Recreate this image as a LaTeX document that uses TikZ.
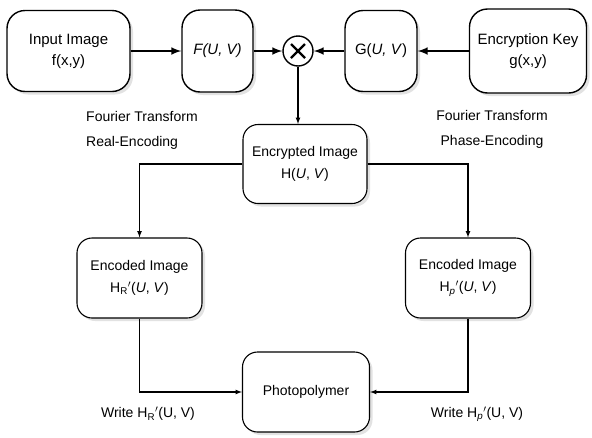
\documentclass[tikz,border=0pt]{standalone}
\usepackage{fontspec}
\setmainfont{Liberation Sans}
\usetikzlibrary{shadows}

\tikzset{
  boxshadow/.style={drop shadow={shadow xshift=3pt, shadow yshift=-3pt, fill=gray!45, draw=none}},
  topbox/.style={draw, line width=1.4pt, rounded corners=18pt, fill=white, align=center,
    font=\fontsize{15}{21}\selectfont, boxshadow},
  midbox/.style={draw, line width=1.1pt, rounded corners=15pt, fill=white, align=center,
    minimum width=124pt, minimum height=79pt, font=\fontsize{14}{22}\selectfont, boxshadow},
  note/.style={font=\fontsize{14}{25}\selectfont, inner sep=0pt},
  thickarrow/.style={line width=2.4pt, -latex},
  thinarrow/.style={line width=1.2pt, -latex}
}

\begin{document}
\begin{tikzpicture}[x=1pt, y=-1pt]
  \useasboundingbox (0,0) rectangle (592,437);

  % top row
  \node[topbox, minimum width=123pt, minimum height=81pt] (input) at (68.5,51) {Input Image\\f(x,y)};
  \node[topbox, minimum width=71pt, minimum height=82pt] (fuv) at (217.5,51) {\textit{F(U, V)}};
  \node[draw, circle, line width=1.4pt, minimum size=30pt, inner sep=0pt, fill=white,
    path picture={\draw[line width=2.2pt]
      (path picture bounding box.center) +(-7pt,-7pt) -- +(7pt,7pt)
      (path picture bounding box.center) +(-7pt,7pt) -- +(7pt,-7pt);}] (mult) at (298,51) {};
  \node[topbox, minimum width=72pt, minimum height=81pt] (guv) at (381,51) {G(\textit{U, V})};
  \node[topbox, minimum width=117pt, minimum height=84pt] (key) at (528,51) {Encryption Key\\g(x,y)};

  % lower boxes
  \node[midbox] (enc) at (305,164) {Encrypted Image\\H(\textit{U}, \textit{V})};
  \node[midbox, minimum width=125pt, minimum height=80pt] (encR) at (139.5,278) {Encoded Image\\H\textsubscript{R}$'$(\textit{U}, \textit{V})};
  \node[midbox, minimum width=125pt, minimum height=80pt] (encP) at (468,278) {Encoded Image\\H\textsubscript{\textit{p}}$'$(\textit{U}, \textit{V})};
  \node[midbox, minimum width=127pt, minimum height=80pt] (photo) at (306,392) {Photopolymer};

  % labels
  \node[note, align=left, anchor=west] (realtxt) at (86,130) {Fourier Transform\\Real-Encoding};
  \node[note, align=center] (phasetxt) at (492,129) {Fourier Transform\\Phase-Encoding};
  \node[note] (writeR) at (148,414) {Write H\textsubscript{R}$'$(U, V)};
  \node[note] (writeP) at (477,414) {Write H\textsubscript{\textit{p}}$'$(U, V)};

  \path[thickarrow]
    (input) edge (fuv)
    (fuv) edge (mult)
    (key) edge (guv)
    (guv) edge (mult);

  \path[thinarrow]
    (mult.south) edge (mult.south |- enc.north);
  \draw[thinarrow] (enc.west) -| (encR.north);
  \draw[thinarrow] (enc.east) -| (encP.north);
  \draw[thinarrow] (encR.south) |- (photo.west);
  \draw[thinarrow] (encP.south) |- (photo.east);
\end{tikzpicture}
\end{document}
